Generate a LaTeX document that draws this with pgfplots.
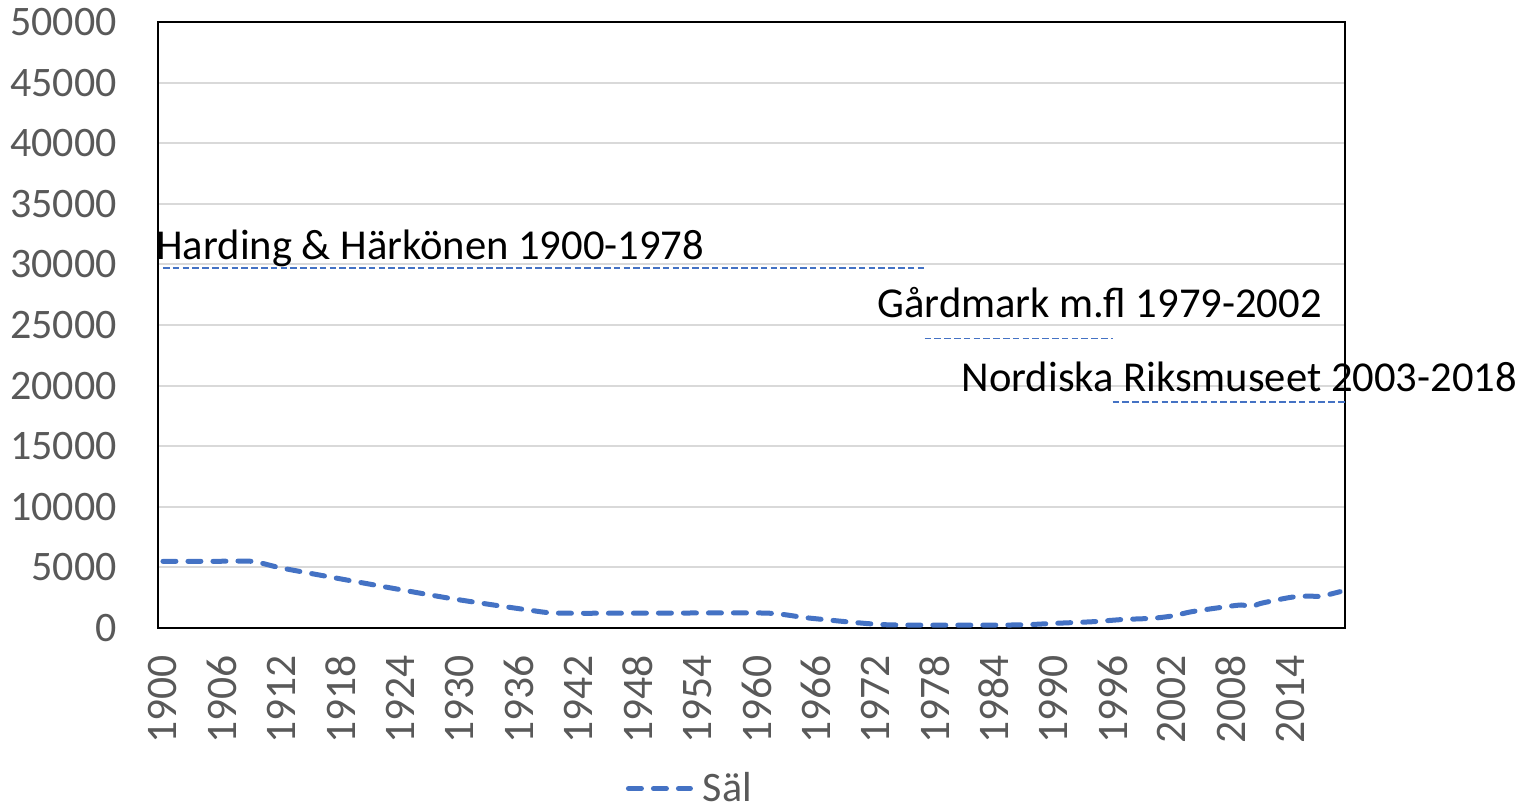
\documentclass[border=0pt]{standalone}
\usepackage{fontspec}
\setmainfont{Carlito}
\usepackage{pgfplots}
\pgfplotsset{compat=1.18}
\definecolor{salblue}{HTML}{4472C4}
\definecolor{tickgray}{HTML}{595959}
\definecolor{gridgray}{HTML}{D9D9D9}

\pgfplotstableread{
year  sal
1900  5500
1905  5500
1909  5500
1912  4950
1919  3900
1929  2450
1937  1480
1940  1230
1950  1230
1961  1230
1965  850
1970  450
1974  250
1986  250
1990  380
1994  520
1997  700
2000  800
2002  990
2004  1345
2007  1705
2009  1900
2010  1760
2011  2035
2014  2530
2016  2640
2017  2600
2019  3000
}\saltable

\begin{document}
\begin{tikzpicture}
\path[use as bounding box] (-79pt,-91pt) rectangle (688pt,314pt);
\begin{axis}[
  at={(0pt,0pt)}, anchor=south west,
  scale only axis, width=593.5pt, height=303pt,
  xmin=1899.5, xmax=2019.5, ymin=0, ymax=50000,
  xtick={1900,1906,...,2014},
  ytick={0,5000,...,50000},
  scaled y ticks=false,
  /pgf/number format/set thousands separator={},
  /pgf/number format/assume math mode=true,
  tick label style={text=tickgray},
  major tick length=0pt,
  ymajorgrids,
  grid style={gridgray, line width=1pt},
  axis line style={black, line width=1pt},
  xticklabel style={font=\fontsize{21.8}{25}\selectfont,
    yshift=-13.5pt, rotate=90, anchor=east, inner sep=0pt},
  yticklabel style={font=\fontsize{21}{25}\selectfont,
    anchor=east, inner sep=0pt, xshift=-20.5pt},
  clip=false,
  legend style={draw=none, fill=none, at={(axis description cs:0.449,-0.265)},
    anchor=center, font=\fontsize{21}{25}\selectfont, text=tickgray},
  legend image code/.code={\draw[#1] (0pt,0pt) -- (31pt,0pt);},
]
\addplot[salblue, line width=2.5pt, line cap=round, dash pattern=on 6.5pt off 6pt,
  smooth, tension=0.4] table[x=year, y=sal] {\saltable};
\addlegendentry{\hspace{3pt}Säl}

\addplot[salblue, line width=0.8pt, dash pattern=on 3.3pt off 1.6pt, forget plot]
  coordinates {(1900,29680) (1977,29680)};
\addplot[salblue, line width=0.8pt, dash pattern=on 3.3pt off 1.6pt, forget plot]
  coordinates {(1977,23900) (1996,23900)};
\addplot[salblue, line width=0.8pt, dash pattern=on 3.3pt off 1.6pt, forget plot]
  coordinates {(1996,18670) (2019.5,18670)};

\node[anchor=base west, inner sep=0pt, font=\fontsize{21.3}{25}\selectfont]
  at (axis cs:1899.3,30446) {Harding \& Härkönen 1900-1978};
\node[anchor=base west, inner sep=0pt, font=\fontsize{21.3}{25}\selectfont]
  at (axis cs:1972.2,25635) {Gårdmark m.fl 1979-2002};
\node[anchor=base west, inner sep=0pt, font=\fontsize{21.3}{25}\selectfont]
  at (axis cs:1980.7,19497) {Nordiska Riksmuseet 2003-2018};
\end{axis}
\end{tikzpicture}
\end{document}
